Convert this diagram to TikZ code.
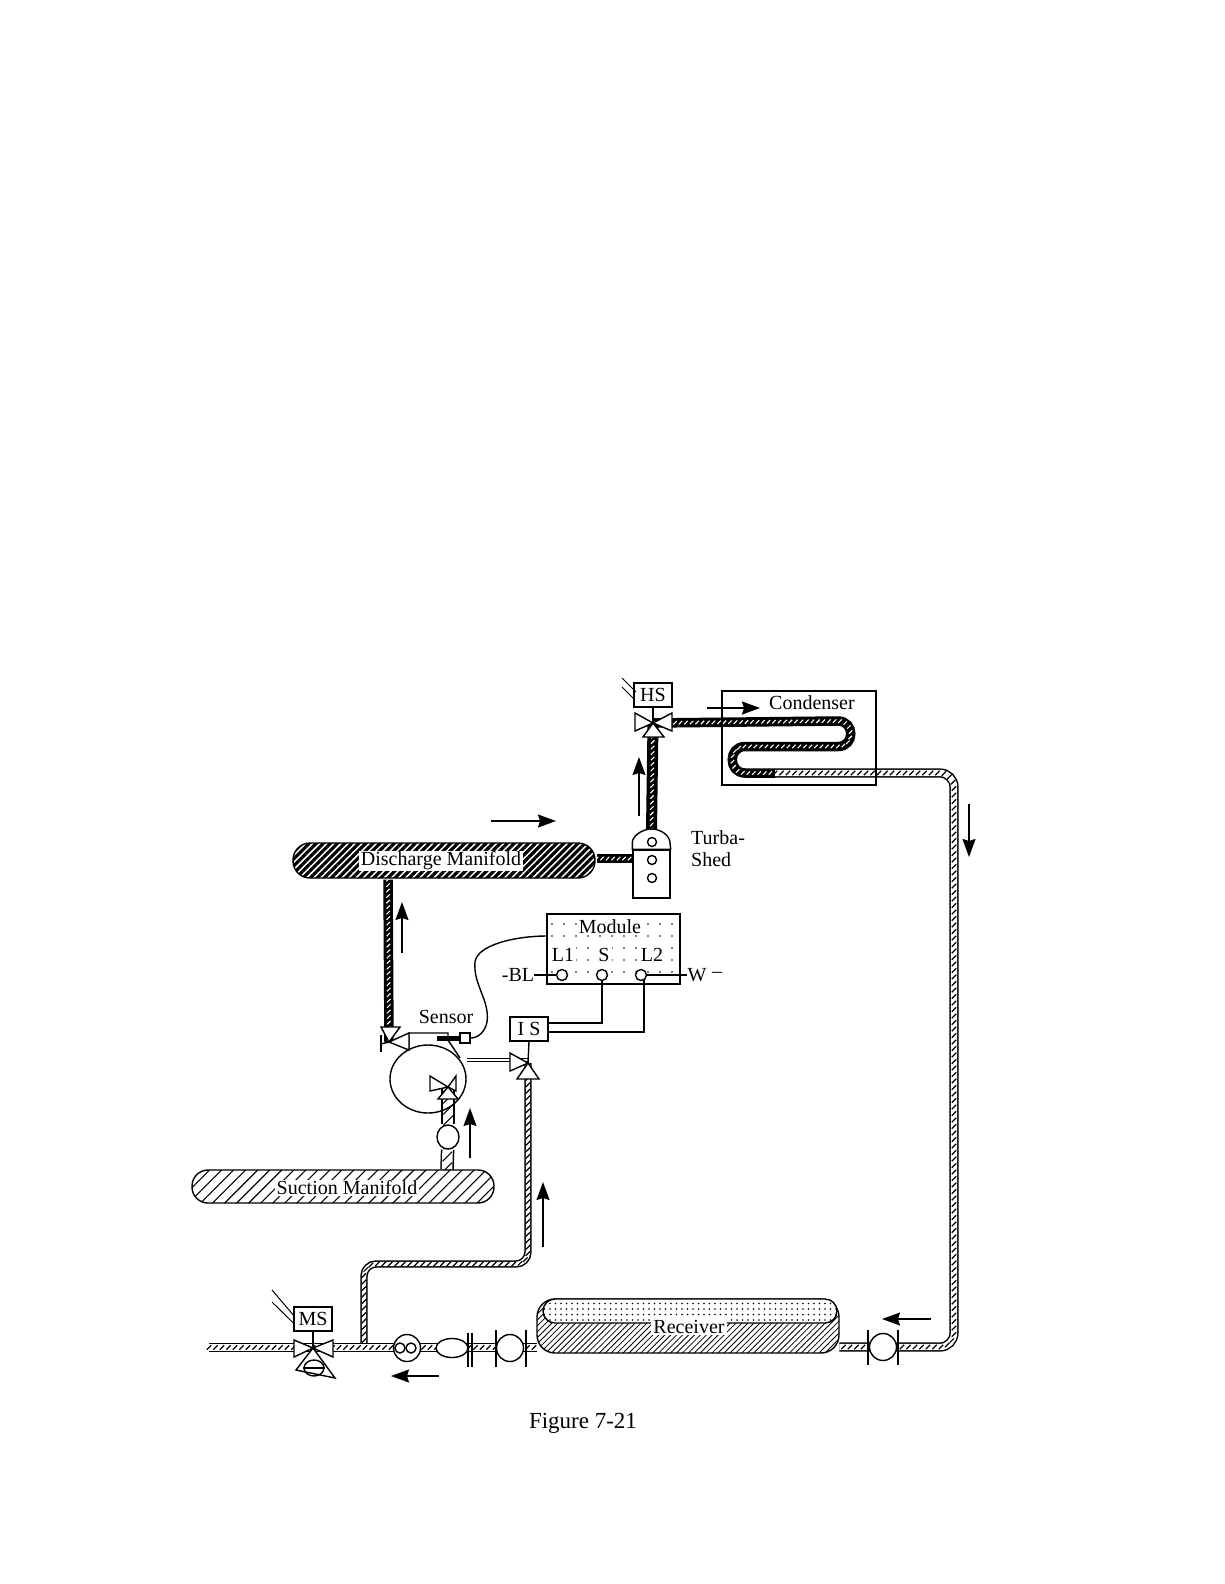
\documentclass[tikz,border=0pt]{standalone}
\usepackage{fontspec}
\setmainfont{Liberation Serif}
\usetikzlibrary{arrows.meta,backgrounds,decorations.markings,patterns.meta,shapes.geometric}
\tikzset{
  lbl/.style   ={font=\fontsize{20}{22}\selectfont, inner sep=0pt},
  wlbl/.style  ={lbl, fill=white, inner xsep=2pt, inner ysep=1pt},
  ctrl/.style  ={draw, line width=1.4pt, fill=white, lbl, minimum width=38pt, minimum height=24pt},
  part/.style  ={draw, line width=1.4pt, fill=white},
  wire/.style  ={draw, line width=1.4pt},
  round/.style ={part, circle, inner sep=0pt, minimum size=#1},
  bar/.style   ={draw, line width=1.8pt},
  flow/.style  ={-{Stealth[length=18pt,width=13pt,inset=2pt]}, line width=1.4pt},
  hotpipe/.style={line width=9.5pt, postaction={decorate, decoration={markings,
      mark=between positions 0 and 1 step 5.5pt with {\pgftransformresetnontranslations
        \draw[white, line width=1.1pt] (-1.7pt,-1.7pt) -- (1.7pt,1.7pt);}}}},
  coldpipe/.style={line width=1.5pt, double=white, double distance=#1,
    postaction={decorate, decoration={markings,
      mark=between positions 0 and 1 step 6.5pt with {\pgftransformresetnontranslations
        \draw[black, line width=1.2pt] (-2.2pt,-2.2pt) -- (2.2pt,2.2pt);}}}},
  coldpipe/.default=6.2pt,
  widepipe/.style={line width=1.5pt, double=white, double distance=10.5pt,
    postaction={decorate, decoration={markings,
      mark=between positions .1 and 1 step 11pt with {\pgftransformresetnontranslations
        \draw[black, line width=1.1pt] (-4.8pt,-4.8pt) -- (4.8pt,4.8pt);}}}},
  darkmani/.style={part, rounded corners=17pt, preaction={fill=white},
    pattern={Lines[angle=45,distance=5pt,line width=3.2pt]}},
  thinmani/.style={part, rounded corners=16pt, fill=none, preaction={fill=white},
    pattern={Lines[angle=45,distance=8.5pt,line width=1.1pt]}},
}

\begin{document}
\begin{tikzpicture}[x=1pt,y=-1pt]
\useasboundingbox (0,0) rectangle (1224,1584);

% ---------------------------------------------------------------- valve centres
\coordinate (hsv) at (653,723);
\coordinate (disv) at (389,1042);
\coordinate (sucv) at (448,1087);
\coordinate (injv) at (528,1063);
\coordinate (msv) at (313,1348);

% ---------------------------------------------------------------- vessels
\node[draw, line width=1.4pt, minimum width=154pt, minimum height=94pt] (cond) at (799,738) {};
\node[lbl] (condlbl) at (812,703) {Condenser};
\node[darkmani, minimum width=302pt, minimum height=35pt] (disch) at (444,860.5) {};
\node[wlbl] (dischlbl) at (441,861) {Discharge Manifold};
\node[thinmani, minimum width=302pt, minimum height=33pt] (suct) at (343,1186.5) {};
\node[wlbl] (suctlbl) at (347,1188) {Suction Manifold};
\node[part, fill=none, preaction={fill=white}, rounded corners=18pt, minimum width=302pt, minimum height=54pt,
      pattern={Lines[angle=45,distance=4.2pt,line width=.8pt]}] (recv) at (688,1326) {};
\node[part, fill=none, preaction={fill=white}, rounded corners=12pt, minimum width=294pt, minimum height=24pt,
      pattern={Dots[distance=5.5pt,radius=.8pt]}] (recvtop) at (690,1311) {};
\node[wlbl] (recvlbl) at (689,1327) {Receiver};

% ---------------------------------------------------------------- turba-shed
\node[part, minimum width=37pt, minimum height=48pt] (turba) at (651.5,874) {};
\draw[part] (turba.north west) -- ++(0,-7) .. controls (633,835) and (643,829) .. (651.5,829)
  .. controls (660,829) and (670,835) .. (670,843) -- (turba.north east) -- cycle;
\foreach \yy in {842,860,878}
  \node[round=9pt] (turba\yy) at (652,\yy) {};
\node[lbl, anchor=west] (turbalbl) at (691,838) {Turba-};
\node[lbl, anchor=west] (shedlbl) at (691,860) {Shed};

% ---------------------------------------------------------------- module
\node[part, fill=none, preaction={fill=white}, minimum width=133pt, minimum height=70pt,
      pattern={Dots[distance=12pt,radius=.9pt]}] (module) at (613.5,949) {};
\node[wlbl] (modlbl) at (610,927) {Module};
\node[wlbl] (l1lbl) at (563,955) {L1};
\node[wlbl] (slbl) at (604,955) {S};
\node[wlbl] (l2lbl) at (652,955) {L2};
\node[round=11pt] (l1) at (562,975) {};
\node[round=11pt] (sc) at (602,975) {};
\node[round=11pt] (l2) at (641,975) {};
\node[lbl] (bl) at (518,975) {-BL};
\node[lbl] (wl) at (697,975) {W};
\node[lbl] (wdash) at (717,975) {--};
\draw[wire] (bl) -- (l1);
\draw[wire] (l2) -- (wl);

\node[ctrl] (is) at (529,1029) {I S};
\draw[wire] (sc.south) |- (is.east |- 0,1023);
\draw[wire] (644,980) |- (is.east |- 0,1032);

% ---------------------------------------------------------------- compressor + sensor
\node[draw, line width=1.4pt, ellipse, inner sep=0pt, minimum width=76pt, minimum height=68pt] (comp) at (428,1079) {};
\node[lbl] (senslbl) at (446,1017) {Sensor};
\node[part, inner sep=0pt, minimum size=10pt] (sens) at (465,1038) {};
\coordinate (barl) at (437,1038);
\coordinate (wirem) at (547,936);
\draw[wire] (wirem) .. controls (515,936) and (477,945) .. (475,962)
  .. controls (473,985) and (490,1000) .. (487,1022) .. controls (485,1032) and (478,1038) .. (sens.east);
\draw[line width=1.4pt] (409,1050) -- (409,1033) -- (448,1033) -- (448,1040) -- (460,1058);
\draw[line width=5pt] (barl) -- (sens.west);
\node[round=22pt, minimum height=24pt, ellipse] (filt) at (448,1137) {};

% ---------------------------------------------------------------- pipes
\begin{scope}[on background layer]
\draw[hotpipe] (hsv) -- (838,721) .. controls (855,721) and (855,746.5) .. (838,746.5)
  -- (745,746.5) .. controls (728,746.5) and (728,773) .. (745,773) -- (775,773);
\draw[coldpipe, rounded corners=14pt] (775,773) -- (954,773) -- (954,1347) -- (recv.east |- 0,1347);
\draw[hotpipe, line width=11pt] (turba.north |- 0,830) -- (hsv);
\draw[hotpipe] (disch.east |- 0,858.5) -- (633,858.5);
\draw[hotpipe] (disch.south -| 388,0) -- (disv);
\draw[widepipe] (filt) -- (sucv);
\draw[widepipe] (suct.north -| 447,0) -- (filt);
\draw[coldpipe=4.4pt, rounded corners=12pt] (364,1347) -- (364,1264) -- (528,1264) -- (injv);
\draw[coldpipe] (209,1347.5) -- (recv.west |- 0,1347.5);
\draw[line width=1.2pt, double=white, double distance=2.4pt] (comp.east |- 0,1060) -- (injv |- 0,1060);
\end{scope}
\draw[wire] (is.south) -- (injv);

% ---------------------------------------------------------------- valves
\draw[part] (hsv) -- (635,713) -- (635,731) -- cycle;
\draw[part] (hsv) -- (672,713) -- (672,731) -- cycle;
\draw[part] (hsv) -- (664,737) -- (643,737) -- cycle;
\node[ctrl] (hs) at (653,695) {HS};
\draw[wire] (hs.south) -- (hsv);
\coordinate (hsa) at (622,678);
\coordinate (hsb) at (622,687);
\draw[line width=1pt] (hsa) -- (636,692);
\draw[line width=1pt] (hsb) -- (634,699);

\draw[part] (disv) -- (381,1027) -- (400,1027) -- cycle;
\draw[part] (disv) -- (409,1033) -- (409,1050) -- cycle;
\draw[line width=1.6pt] (381,1035) -- (381,1052);
\draw[line width=1.4pt] (disv) -- (381,1044);

\draw[part] (sucv) -- (430,1076) -- (430,1091) -- cycle;
\draw[part] (sucv) -- (456,1076) -- (456,1091) -- cycle;
\draw[part] (sucv) -- (458,1099) -- (438,1099) -- cycle;

\draw[part] (injv) -- (510,1053) -- (510,1071) -- cycle;
\draw[part] (injv) -- (539,1079) -- (517,1079) -- cycle;

\draw[part] (msv) -- (294,1340) -- (294,1357) -- cycle;
\draw[part] (msv) -- (333,1340) -- (333,1357) -- cycle;
\draw[part] (msv) -- (335,1378) -- (296,1370) -- cycle;
\node[draw, line width=1.4pt, ellipse, inner sep=0pt, minimum width=20pt, minimum height=16pt] (msoval) at (314,1368) {};
\draw[line width=1.2pt] (msoval.west) -- (msoval.east);
\node[ctrl] (ms) at (313,1319) {MS};
\draw[wire] (ms.south) -- (msv);
\coordinate (msa) at (272,1290);
\coordinate (msb) at (272,1302);
\draw[line width=1pt] (msa) -- (ms.west |- 0,1315);
\draw[line width=1pt] (msb) -- (ms.west |- 0,1323);

% ---------------------------------------------------------------- liquid line fittings
\node[round=27pt] (strain) at (407,1348) {};
\node[round=10pt] (straina) at (400,1348) {};
\node[round=10pt] (strainb) at (411,1348) {};
\node[part, ellipse, inner sep=0pt, minimum width=32pt, minimum height=19pt] (sight) at (452,1348) {};
\draw[bar] (468,1333) -- (468,1367);
\draw[bar] (472,1333) -- (472,1367);
\node[round=27pt] (drier) at (510,1348) {};
\draw[bar] (496,1330) -- (496,1367);
\draw[bar] (526,1330) -- (526,1367);
\node[round=27pt] (shut) at (883,1347) {};
\draw[bar] (868,1330) -- (868,1365);
\draw[bar] (898,1330) -- (898,1365);

% ---------------------------------------------------------------- flow arrows
\foreach \nm/\ax/\ay/\bx/\by in {top/491/821/556/821, hs/639/816/639/757, cd/707/708/760/708,
    dn/969/804/969/857, dc/402/953/402/902, su/470/1158/470/1108, ij/543/1247/543/1182,
    re/931/1319/882/1319, bt/439/1376/391/1376}{
  \coordinate (\nm s) at (\ax,\ay);
  \coordinate (\nm e) at (\bx,\by);
  \draw[flow] (\nm s) -- (\nm e);
}

\node[lbl, font=\fontsize{23}{25}\selectfont] (figlbl) at (583,1423) {Figure 7-21};

\end{tikzpicture}
\end{document}
